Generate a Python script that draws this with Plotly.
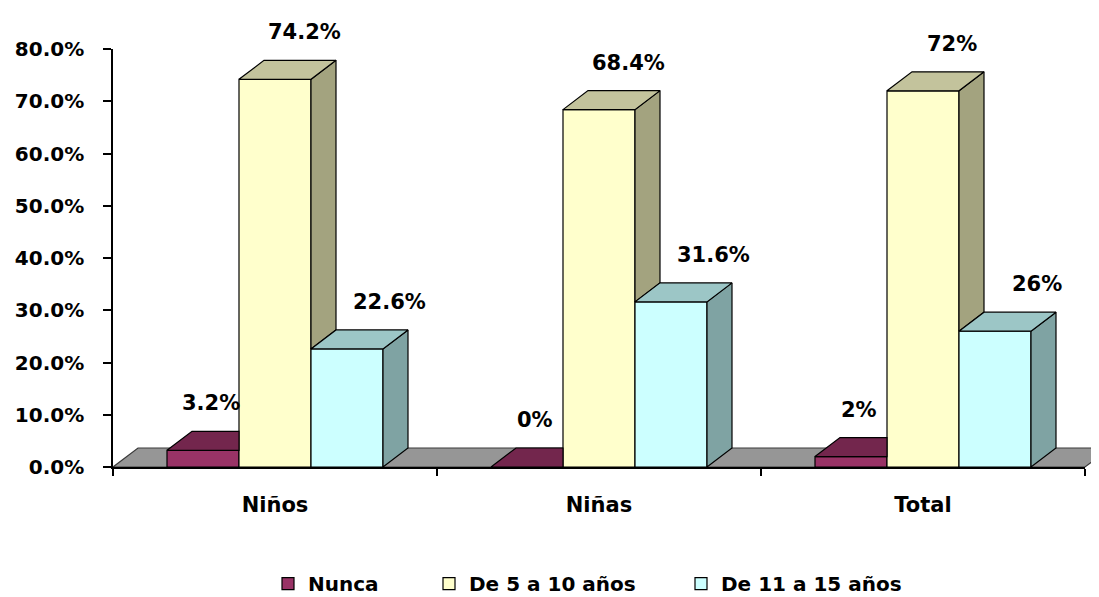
import plotly.graph_objects as go

# ---------------- data ----------------
categories = ["Niños", "Niñas", "Total"]
series_names = ["Nunca", "De 5 a 10 años", "De 11 a 15 años"]
nunca = [3.2, 0, 2]
de_5_a_10 = [74.2, 68.4, 72]
de_11_a_15 = [22.6, 31.6, 26]
y_ticks = [0, 10, 20, 30, 40, 50, 60, 70, 80]

series_values = [nunca, de_5_a_10, de_11_a_15]

# ---------------- style ----------------
front_colors = ["#993366", "#FFFFCC", "#CCFFFF"]
top_colors = ["#73264D", "#C3C39C", "#9CC6C6"]
side_colors = ["#66213F", "#A3A37F", "#7FA3A3"]
label_xshift = [8, 29, 42]
label_yshift = 47
FONT = "DejaVu Sans"

# the page body has an 8px margin, so the figure is 8px smaller
W, H = 1091, 589
L, R, T, B = 105, 14, 41, 130
plot_w = W - L - R
plot_h = H - T - B
x_range = [-0.5, len(categories) - 0.5]
y_range = [0, 80]
DX_PX, DY_PX = 25, 19
dx = DX_PX * (x_range[1] - x_range[0]) / plot_w
dy = DY_PX * (y_range[1] - y_range[0]) / plot_h

bargap = 1 / 3
n_series = len(series_values)
bar_w = (1 - bargap) / n_series

fig = go.Figure()

# front faces (real bars)
for j, vals in enumerate(series_values):
    fig.add_trace(go.Bar(
        x=list(range(len(categories))), y=vals, name=series_names[j],
        marker=dict(color=front_colors[j], line=dict(color="black", width=1.2)),
        legend="legend" if j == 0 else f"legend{j + 1}",
        hoverinfo="skip",
    ))

# 3D top and side faces computed from values
for i in range(len(categories)):
    for j, vals in enumerate(series_values):
        v = vals[i]
        xc = i + (j - (n_series - 1) / 2) * bar_w
        x0, x1 = xc - bar_w / 2, xc + bar_w / 2
        nxt = series_values[j + 1][i] if j + 1 < n_series else None
        # side face
        if nxt is None or nxt < v:
            b = 0 if nxt is None else nxt
            fig.add_trace(go.Scatter(
                x=[x1, x1 + dx, x1 + dx, x1, x1],
                y=[b, b + dy, v + dy, v, b],
                mode="lines", fill="toself", fillcolor=side_colors[j],
                line=dict(color="black", width=1.2), showlegend=False, hoverinfo="skip"))
        # top face
        if nxt is not None and nxt >= v:
            xs = [x0, x1, x1, x0 + dx, x0]
        else:
            xs = [x0, x1, x1 + dx, x0 + dx, x0]
        ys = [v, v, v + dy, v + dy, v]
        fig.add_trace(go.Scatter(
            x=xs, y=ys, mode="lines", fill="toself", fillcolor=top_colors[j],
            line=dict(color="black", width=1.2), showlegend=False, hoverinfo="skip"))
        # data label
        fig.add_annotation(x=xc, y=v, text=f"{v:g}%", showarrow=False,
                           xanchor="center", yanchor="middle",
                           xshift=label_xshift[j], yshift=label_yshift,
                           font=dict(family=FONT, size=21, color="black", weight="bold"))

# floor (paper coordinates derived from the plot size)
ax_p = DX_PX / plot_w
ay_p = DY_PX / plot_h
fig.add_shape(type="path", xref="paper", yref="paper", layer="below",
              path=f"M 0,0 L 1,0 L {1 + ax_p},{ay_p} L {ax_p},{ay_p} Z",
              fillcolor="#969696", line=dict(color="#3a3a3a", width=1.2))

legend_common = dict(orientation="h", y=-0.279, xanchor="left", yanchor="middle",
                     bgcolor="rgba(0,0,0,0)",
                     font=dict(family=FONT, size=20, color="black", weight="bold"))

fig.update_layout(
    width=W, height=H,
    margin=dict(l=L, r=R, t=T, b=B, autoexpand=False),
    paper_bgcolor="white", plot_bgcolor="white",
    barmode="group", bargap=bargap, bargroupgap=0,
    font=dict(family=FONT, size=21, color="black", weight="bold"),
    showlegend=True,
    legend=dict(x=(268 - 113) / plot_w, **legend_common),
    legend2=dict(x=(429 - 113) / plot_w, **legend_common),
    legend3=dict(x=(681 - 113) / plot_w, **legend_common),
    xaxis=dict(range=x_range, tickmode="array", tickvals=list(range(len(categories))),
               ticktext=categories, ticks="", showline=True, linecolor="black",
               linewidth=1.5, showgrid=False, zeroline=False, ticklabelstandoff=18,
               tickfont=dict(family=FONT, size=21, color="black", weight="bold"),
               minor=dict(tickmode="array",
                          tickvals=[k - 0.5 for k in range(len(categories) + 1)],
                          ticks="outside", ticklen=7, tickwidth=1.5, tickcolor="black",
                          showgrid=False)),
    yaxis=dict(range=y_range, tickmode="array", tickvals=y_ticks,
               ticktext=[f"{t:.1f}%" for t in y_ticks],
               ticks="outside", ticklen=8, tickwidth=1.5,
               tickcolor="black", showline=True, linecolor="black", linewidth=1.5,
               showgrid=False, zeroline=False, ticklabelstandoff=15,
               tickfont=dict(family=FONT, size=20, color="black", weight="bold")),
)

fig.write_html("out.html")
